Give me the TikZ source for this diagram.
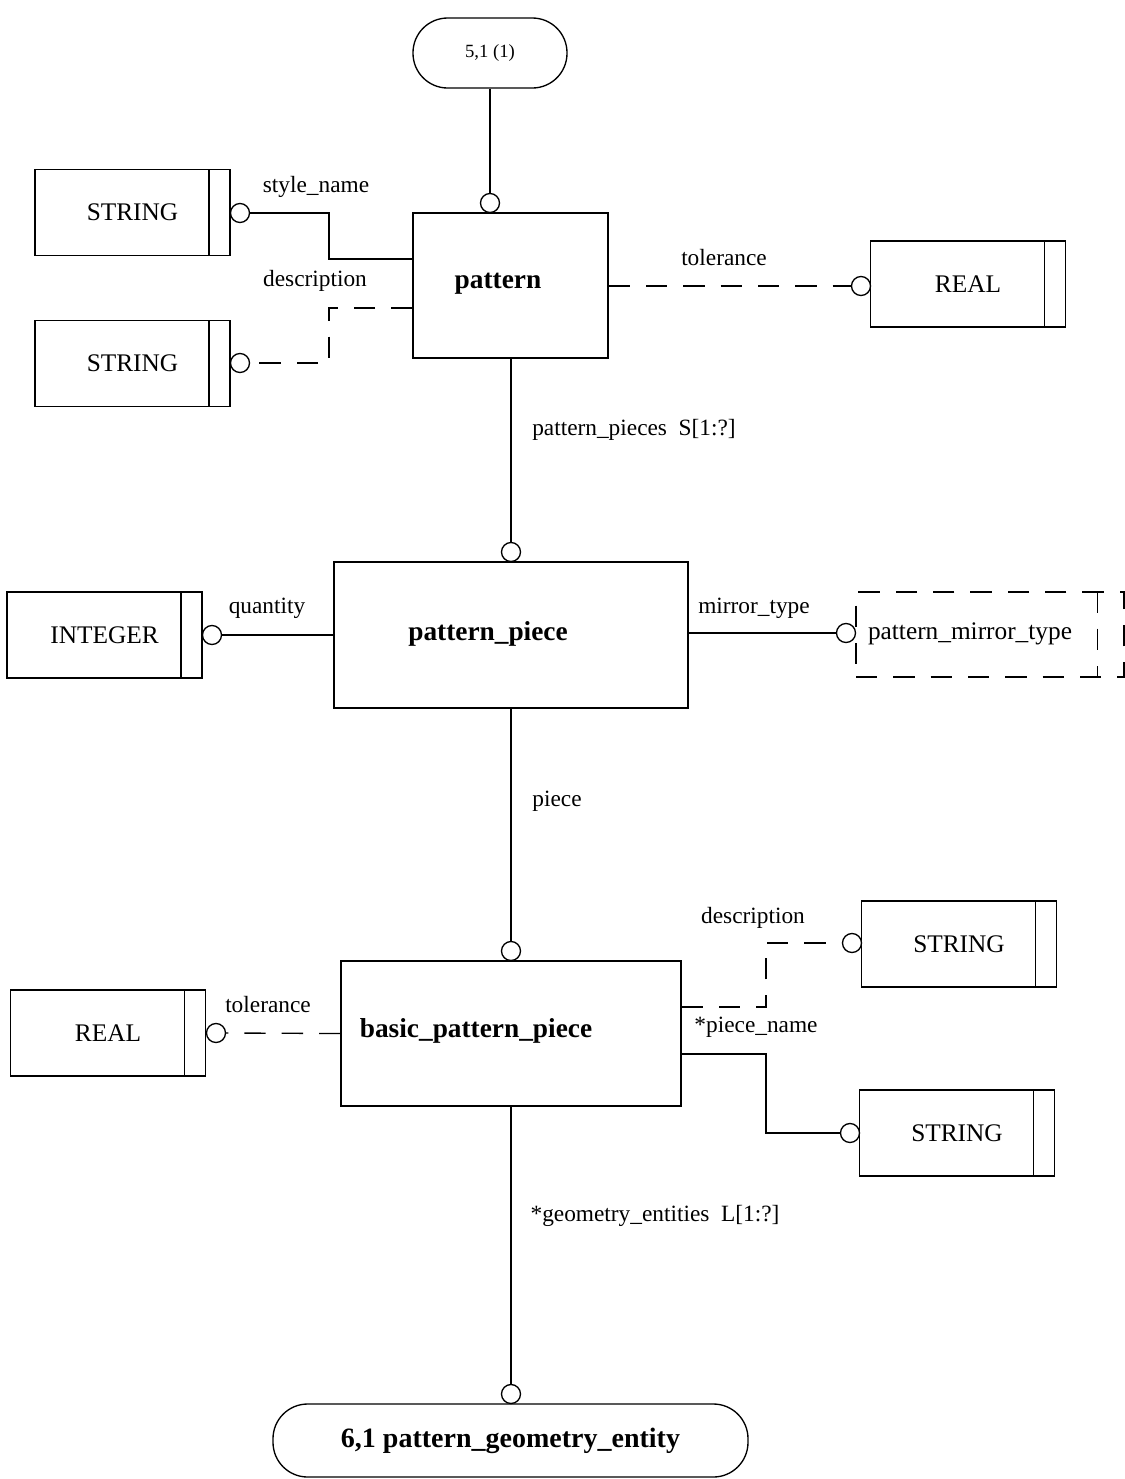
\documentclass[tikz,border=0pt]{standalone}
\usepackage{fontspec}
\setmainfont{Liberation Serif}
\begin{document}
\begin{tikzpicture}[x=0.75pt,y=-0.75pt,
  line width=1pt,
  every node/.style={inner sep=0pt},
  lbl/.style={font=\fontsize{17.5}{20}\selectfont},
  ent/.style={draw, rectangle},
  entname/.style={font=\bfseries\fontsize{20.5}{24}\selectfont},
  typebox/.style={draw, minimum width=195*0.75pt, minimum height=86*0.75pt,
    font=\fontsize{19}{22}\selectfont,
    path picture={\draw ([xshift=-21*0.75pt]path picture bounding box.north east)
      -- ([xshift=-21*0.75pt]path picture bounding box.south east);}},
  ring/.style={draw, circle, minimum size=19*0.75pt, fill=white},
  dsh/.style={dash pattern=on 16pt off 12pt},
  ovalbox/.style={draw, rounded corners=26pt}
]
% page
\fill[white] (0,0) rectangle (1125,1479);
\useasboundingbox (0,0) rectangle (1125,1479);

% off-page references
\node[ovalbox, minimum width=154*0.75pt, minimum height=70*0.75pt,
  font=\fontsize{14}{16}\selectfont] (ref51) at (490,53) {5,1 (1)};
\node[ovalbox, minimum width=475*0.75pt, minimum height=73*0.75pt,
  font=\bfseries\fontsize{21}{24}\selectfont] (ref61) at (510.5,1440.5) {6,1 pattern\_geometry\_entity};

% entities
\node[ent, minimum width=195*0.75pt, minimum height=145*0.75pt] (pattern) at (510.5,285.5) {};
\node[entname] at (498,284) {pattern};
\node[ent, minimum width=354*0.75pt, minimum height=146*0.75pt] (piece) at (511,635) {};
\node[entname] at (488,634) {pattern\_piece};
\node[ent, minimum width=340*0.75pt, minimum height=145*0.75pt] (basic) at (511,1033.5) {};
\node[entname] at (476,1031) {basic\_pattern\_piece};

% simple types
\node[typebox] (str1) at (132.5,212.5) {STRING};
\node[typebox] (str2) at (132.5,363.5) {STRING};
\node[typebox] (real1) at (968,284) {REAL};
\node[typebox] (int) at (104.5,635) {INTEGER};
\node[typebox] (real2) at (108,1033) {REAL};
\node[typebox] (str3) at (959,944) {STRING};
\node[typebox] (str4) at (957,1133) {STRING};

% defined type (dashed)
\node[draw, dsh, minimum width=268*0.75pt, minimum height=85*0.75pt] (mirror) at (990,634.5) {};
\node[font=\fontsize{19}{22}\selectfont] at (970,634) {pattern\_mirror\_type};
\draw[dsh] ([xshift=-27*0.75pt]mirror.north east) -- ([xshift=-27*0.75pt]mirror.south east);

% relationship ends
\node[ring] (c0) at (490,203) {};
\node[ring] (c1) at (240,213) {};
\node[ring] (c2) at (240,363) {};
\node[ring] (c3) at (861,286) {};
\node[ring] (c4) at (511,552) {};
\node[ring] (c5) at (212,635) {};
\node[ring] (c6) at (846,633) {};
\node[ring] (c7) at (511,951) {};
\node[ring] (c8) at (216,1033) {};
\node[ring] (c9) at (852,943) {};
\node[ring] (c10) at (850,1133) {};
\node[ring] (c11) at (511,1394) {};

% bend points and attachment levels
\coordinate (b1) at (329,213);
\coordinate (b2) at (329,363);
\coordinate (b3) at (766,943);
\coordinate (b4) at (766,1133);
\coordinate (y1) at (0,259);
\coordinate (y2) at (0,308);
\coordinate (y3) at (0,1007);
\coordinate (y4) at (0,1054);

% connectors (dashed ones start at the entity so a dash meets its edge)
\draw (ref51.south) -- (c0.north);
\draw (c1.east) -- (b1) |- (pattern.west |- y1);
\draw[dsh] (pattern.west |- y2) -| (b2) -- (c2.east);
\draw[dsh] (pattern.east |- c3) -- (c3.west);
\draw ([xshift=0.5*0.75pt]pattern.south) -- (c4.north);
\draw (c5.east) -- (piece.west);
\draw (piece.east |- c6) -- (c6.west);
\draw (piece.south) -- (c7.north);
\draw[dsh] (basic.west) -- (c8.east);
\draw[dsh] (basic.east |- y3) -| (b3) -- (c9.west);
\draw (basic.east |- y4) -| (b4) -- (c10.west);
\draw (basic.south) -- (c11.north);

% role labels
\node[lbl] at (316,187) {style\_name};
\node[lbl] at (315,281) {description};
\node[lbl] at (724,258) {tolerance};
\node[lbl] at (634,430) {pattern\_pieces\ \ S[1:?]};
\node[lbl] at (267,608) {quantity};
\node[lbl] at (754,608) {mirror\_type};
\node[lbl] at (557,801) {piece};
\node[lbl] at (753,918) {description};
\node[lbl] at (268,1005) {tolerance};
\node[lbl] at (756,1027) {*piece\_name};
\node[lbl] at (655,1216) {*geometry\_entities\ \ L[1:?]};
\end{tikzpicture}
\end{document}
